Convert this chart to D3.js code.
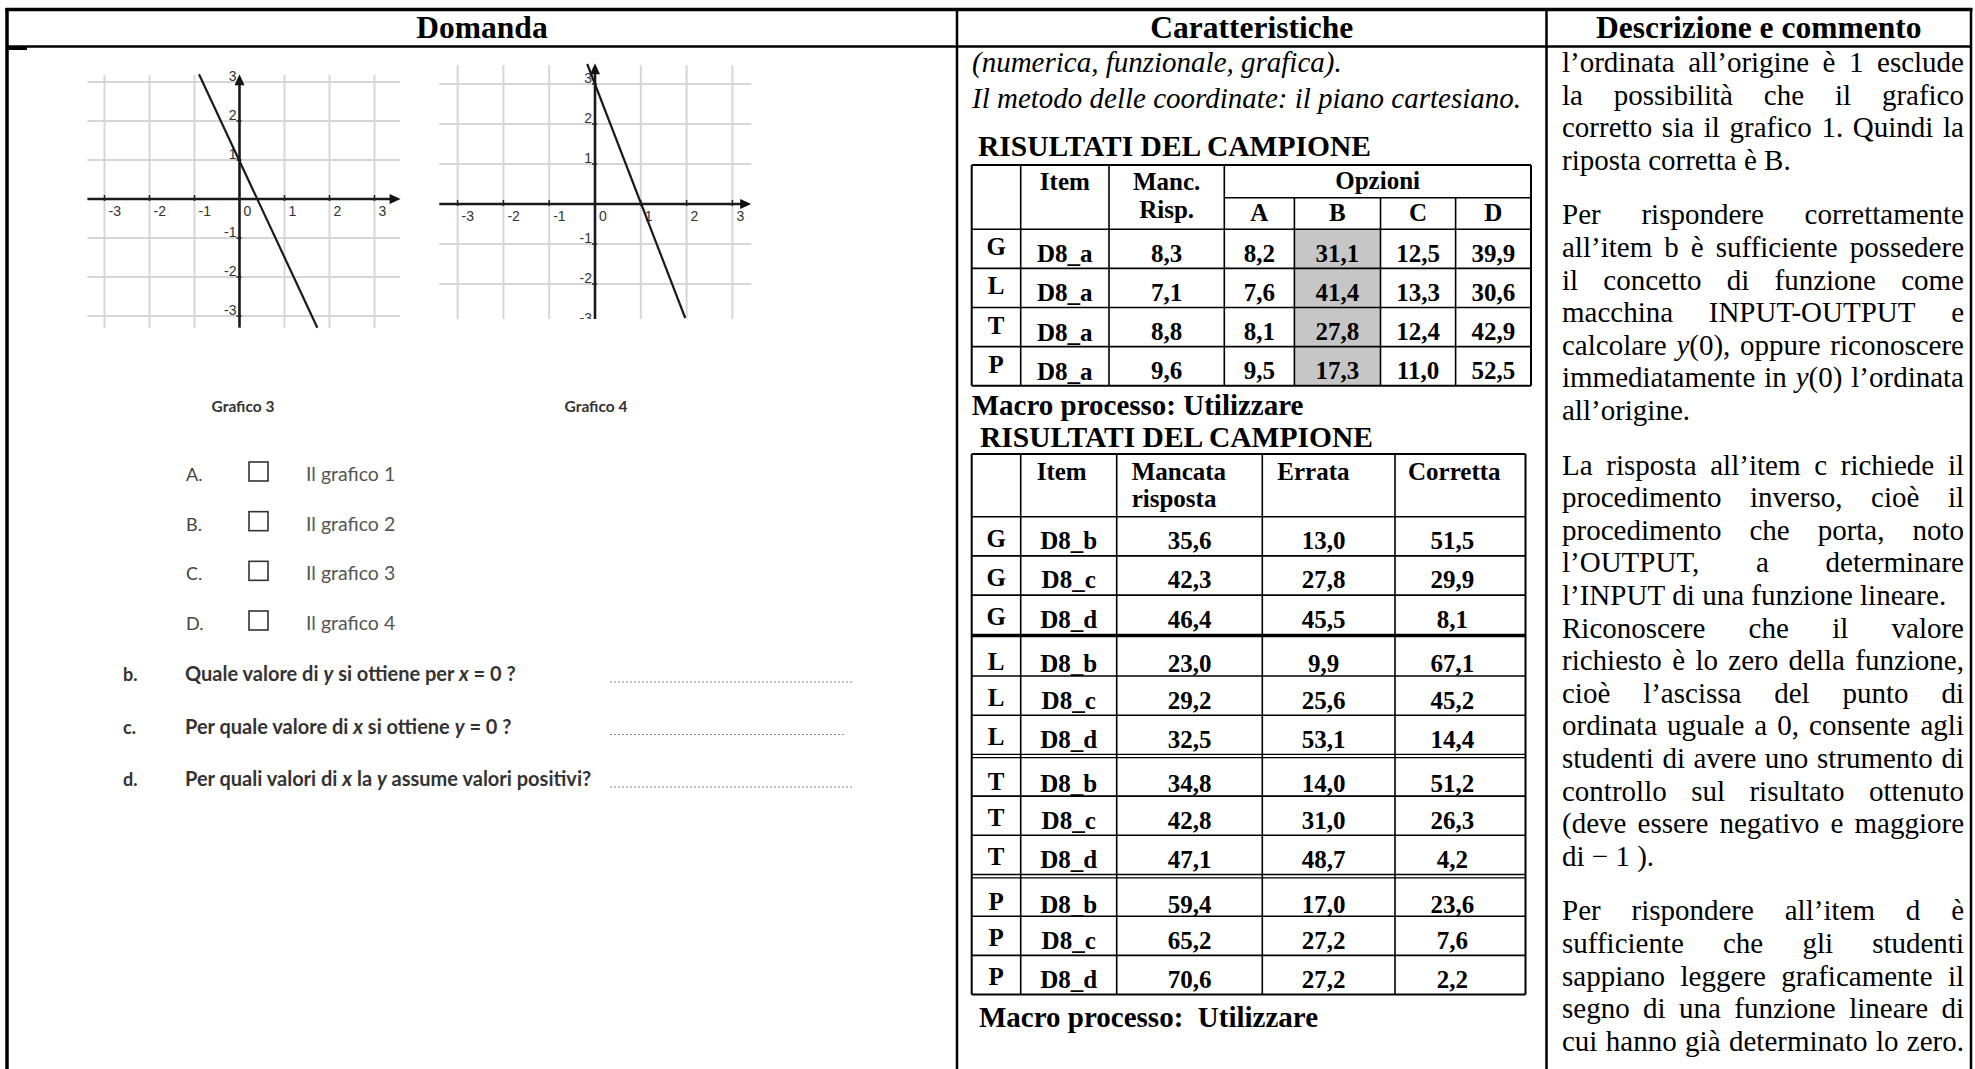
<!DOCTYPE html>
<html><head><meta charset="utf-8">
<script src="https://cdn.jsdelivr.net/npm/d3@7"></script>
<style>html,body{margin:0;padding:0;background:#fff;overflow:hidden}</style>
</head><body><svg id="c" width="1975" height="1069"></svg>
<script>
// ---------------- DATA ----------------
const headers = ["Domanda", "Caratteristiche", "Descrizione e commento"];

const gridTicks = [-3, -2, -1, 1, 2, 3];
const xTickLabels = ["-3", "-2", "-1", "0", "1", "2", "3"];
const xTickValues = [-3, -2, -1, 0, 1, 2, 3];
const yTickLabels = ["3", "2", "1", "-1", "-2", "-3"];
const yTickValues = [3, 2, 1, -1, -2, -3];
const graph3Line = [[-0.9, 3.2], [1.73, -3.3]];
const graph4Line = [[-0.17, 3.5], [1.97, -2.85]];
const graphTitles = ["Grafico 3", "Grafico 4"];

const optionLetters = ["A.", "B.", "C.", "D."];
const optionLabels = ["Il grafico 1", "Il grafico 2", "Il grafico 3", "Il grafico 4"];

const questionLetters = ["b.", "c.", "d."];
const questionTexts = [
  "Quale valore di *y* si ottiene per *x* = 0 ?",
  "Per quale valore di *x* si ottiene *y* = 0 ?",
  "Per quali valori di *x* la *y* assume valori positivi?"
];

const midIntro = ["(numerica, funzionale, grafica).", "Il metodo delle coordinate: il piano cartesiano."];
const sectionTitle = "RISULTATI DEL CAMPIONE";
const macroLabel1 = "Macro processo: Utilizzare";
const macroLabel2 = "Macro processo:  Utilizzare";

// Table 1 (item a)
const t1Groups = ["G", "L", "T", "P"];
const t1Item = ["D8_a", "D8_a", "D8_a", "D8_a"];
const t1Missing = [8.3, 7.1, 8.8, 9.6];
const t1OptA = [8.2, 7.6, 8.1, 9.5];
const t1OptB = [31.1, 41.4, 27.8, 17.3];
const t1OptC = [12.5, 13.3, 12.4, 11.0];
const t1OptD = [39.9, 30.6, 42.9, 52.5];
const t1OptionNames = ["A", "B", "C", "D"];
const t1Correct = "B";

// Table 2 (items b, c, d)
const t2Groups = ["G","G","G","L","L","L","T","T","T","P","P","P"];
const t2Items = ["D8_b","D8_c","D8_d","D8_b","D8_c","D8_d","D8_b","D8_c","D8_d","D8_b","D8_c","D8_d"];
const t2Missing = [35.6, 42.3, 46.4, 23.0, 29.2, 32.5, 34.8, 42.8, 47.1, 59.4, 65.2, 70.6];
const t2Wrong   = [13.0, 27.8, 45.5, 9.9, 25.6, 53.1, 14.0, 31.0, 48.7, 17.0, 27.2, 27.2];
const t2Right   = [51.5, 29.9, 8.1, 67.1, 45.2, 14.4, 51.2, 26.3, 4.2, 23.6, 7.6, 2.2];

// Right column paragraphs: [text, justify]
const rightParas = [
  [["l’ordinata all’origine è 1 esclude",1],["la possibilità che il grafico",1],["corretto sia il grafico 1. Quindi la",1],["riposta corretta è B.",0]],
  [["Per rispondere correttamente",1],["all’item b  è sufficiente possedere",1],["il concetto di funzione come",1],["macchina INPUT-OUTPUT e",1],["calcolare *y*(0), oppure riconoscere",1],["immediatamente in *y*(0) l’ordinata",1],["all’origine.",0]],
  [["La risposta all’item c richiede il",1],["procedimento inverso, cioè il",1],["procedimento che porta, noto",1],["l’OUTPUT, a determinare",1],["l’INPUT di una funzione lineare.",0],["Riconoscere che il valore",1],["richiesto è lo zero della funzione,",1],["cioè l’ascissa del punto di",1],["ordinata uguale a 0, consente agli",1],["studenti di avere uno strumento di",1],["controllo sul risultato ottenuto",1],["(deve essere negativo e maggiore",1],["di − 1 ).",0]],
  [["Per rispondere all’item d è",1],["sufficiente che gli studenti",1],["sappiano leggere graficamente il",1],["segno di una funzione lineare di",1],["cui hanno già determinato lo zero.",1]]
];

// ---------------- DRAW ----------------
const W = 1975, H = 1069;
const SERIF = "'Liberation Serif','Times New Roman',serif";
const SANS = "Lato,'Open Sans',sans-serif";
const ARIAL = "'Liberation Sans',Arial,sans-serif";
const svg = d3.select("#c");
svg.append("rect").attr("width", W).attr("height", H).attr("fill", "#fff");
const fmt = v => d3.format(".1f")(v).replace(".", ",");

function ln(g, x1, y1, x2, y2, w, c) {
  return g.append("line").attr("x1", x1).attr("y1", y1).attr("x2", x2).attr("y2", y2)
    .attr("stroke", c || "#000").attr("stroke-width", w);
}
// rich text: *...* italic segments
function rich(sel, str) {
  str.split("*").forEach((s, i) => {
    if (!s) return;
    sel.append("tspan").text(s).attr("font-style", i % 2 ? "italic" : null);
  });
  return sel;
}

// ---- outer frame ----
const frame = svg.append("g");
const colX = [7, 957, 1546.5, 1971];
ln(frame, colX[0] - 1.5, 9.5, colX[3] + 1.5, 9.5, 3.5);
ln(frame, colX[0], 46.5, colX[3], 46.5, 2.5);
ln(frame, colX[0], 48.5, colX[0] + 20, 48.5, 3);
colX.forEach((x, i) => ln(frame, x, 8, x, H, i === 0 ? 3.5 : 2.5));
headers.forEach((h, i) => {
  frame.append("text").attr("x", (colX[i] + colX[i + 1]) / 2).attr("y", 37.5)
    .attr("text-anchor", "middle").attr("font-family", SERIF).attr("font-weight", "bold")
    .attr("font-size", 31.5).text(h);
});

// ---- graphs ----
function drawGraph(cfg, id) {
  const g = svg.append("g");
  const clip = svg.append("clipPath").attr("id", "clip" + id);
  clip.append("rect").attr("x", cfg.clip[0]).attr("y", cfg.clip[1]).attr("width", cfg.clip[2]).attr("height", cfg.clip[3]);
  g.attr("clip-path", `url(#clip${id})`);
  const x = d3.scaleLinear().domain([-3, 3]).range(cfg.xr);
  const y = d3.scaleLinear().domain([-3, 3]).range(cfg.yr);
  g.selectAll(".hg").data(gridTicks).join("line")
    .attr("x1", x(cfg.gx[0])).attr("x2", x(cfg.gx[1])).attr("y1", d => y(d)).attr("y2", d => y(d))
    .attr("stroke", "#d6d6d6").attr("stroke-width", 2);
  g.selectAll(".vg").data(gridTicks).join("line")
    .attr("y1", y(cfg.gy[0])).attr("y2", y(cfg.gy[1])).attr("x1", d => x(d)).attr("x2", d => x(d))
    .attr("stroke", "#d6d6d6").attr("stroke-width", 2);
  ln(g, x(cfg.gx[0]), y(0), x(cfg.tipX) - 8, y(0), 2.6, "#1a1a1a");
  ln(g, x(0), y(cfg.gy[0]), x(0), y(cfg.tipY) + 8, 2.6, "#1a1a1a");
  g.append("path").attr("d", `M${x(cfg.tipX)},${y(0)} L${x(cfg.tipX) - 11},${y(0) - 5} L${x(cfg.tipX) - 11},${y(0) + 5} Z`).attr("fill", "#111");
  g.append("path").attr("d", `M${x(0)},${y(cfg.tipY)} L${x(0) - 5},${y(cfg.tipY) + 11} L${x(0) + 5},${y(cfg.tipY) + 11} Z`).attr("fill", "#111");
  g.selectAll(".xt").data(gridTicks).join("line")
    .attr("x1", d => x(d)).attr("x2", d => x(d)).attr("y1", y(0) - 4).attr("y2", y(0) + 2)
    .attr("stroke", "#222").attr("stroke-width", 1.5);
  g.selectAll(".yt").data(gridTicks).join("line")
    .attr("y1", d => y(d)).attr("y2", d => y(d)).attr("x1", x(0) - 3).attr("x2", x(0) + 2)
    .attr("stroke", "#222").attr("stroke-width", 1.5);
  g.selectAll(".xl").data(xTickValues).join("text")
    .attr("x", d => x(d) + 4).attr("y", y(0) + 17).attr("font-family", ARIAL).attr("font-size", 14)
    .attr("fill", "#333").text((d, i) => xTickLabels[i]);
  g.selectAll(".yl").data(yTickValues).join("text")
    .attr("x", x(0) - 3).attr("y", d => y(d) - 1).attr("text-anchor", "end").attr("font-family", ARIAL)
    .attr("font-size", 14).attr("fill", "#333").text((d, i) => yTickLabels[i]);
  g.append("path").datum(cfg.line)
    .attr("d", d3.line().x(d => x(d[0])).y(d => y(d[1])))
    .attr("stroke", "#1a1a1a").attr("stroke-width", 2.2).attr("fill", "none");
  svg.append("text").attr("x", x(0) + cfg.titleDx).attr("y", 412).attr("text-anchor", "middle")
    .attr("font-family", SANS).attr("font-weight", "bold").attr("font-size", 15.5).attr("fill", "#333")
    .text(cfg.title);
}
drawGraph({ xr: [104.5, 374.5], yr: [316, 82], gx: [-3.38, 3.57], gy: [-3.3, 3.18], tipX: 3.58, tipY: 3.2,
  clip: [80, 60, 330, 270], line: graph3Line, title: graphTitles[0], titleDx: 3.5 }, 1);
drawGraph({ xr: [457.6, 732.4], yr: [324, 84], gx: [-3.4, 3.41], gy: [-2.9, 3.47], tipX: 3.41, tipY: 3.52,
  clip: [435, 55, 330, 264], line: graph4Line, title: graphTitles[1], titleDx: 1 }, 2);

// ---- options ----
const optY = d3.scaleLinear().domain([0, 3]).range([474, 623]);
const opts = svg.append("g");
optionLetters.forEach((l, i) => {
  opts.append("text").attr("x", 186).attr("y", optY(i) + 7).attr("font-family", SANS).attr("font-size", 18)
    .attr("fill", "#444").text(l);
  opts.append("rect").attr("x", 249).attr("y", optY(i) - 12).attr("width", 19).attr("height", 19)
    .attr("fill", "none").attr("stroke", "#333").attr("stroke-width", 1.6);
  opts.append("text").attr("x", 306).attr("y", optY(i) + 7).attr("font-family", SANS).attr("font-size", 19.5)
    .attr("fill", "#555").text(optionLabels[i]);
});

// ---- questions ----
const qY = d3.scaleLinear().domain([0, 2]).range([681, 786]);
const dotEnd = [853, 845, 853];
questionLetters.forEach((l, i) => {
  svg.append("text").attr("x", 123).attr("y", qY(i)).attr("font-family", SANS).attr("font-weight", "bold")
    .attr("font-size", 18).attr("fill", "#333").text(l);
  const t = svg.append("text").attr("x", 185).attr("y", qY(i)).attr("font-family", SANS).attr("font-weight", "bold")
    .attr("font-size", 20).attr("fill", "#333");
  rich(t, questionTexts[i]);
  const end = 185 + t.node().getComputedTextLength();
  ln(svg, Math.max(610, end + 8), qY(i) + 1, dotEnd[i], qY(i) + 1, 1.2, "#888").attr("stroke-dasharray", "2,2");
});

// ---- middle column ----
const mid = svg.append("g");
midIntro.forEach((s, i) => mid.append("text").attr("x", 972).attr("y", 71.5 + i * 36.5).attr("font-family", SERIF)
  .attr("font-style", "italic").attr("font-size", 29).text(s));
mid.append("text").attr("x", 978).attr("y", 156).attr("font-family", SERIF).attr("font-weight", "bold")
  .attr("font-size", 29.5).text(sectionTitle);

// Table 1
const T1 = { x: [971.7, 1020.7, 1109, 1224.3, 1294.4, 1380.5, 1455.6, 1531], top: 165, sub: 197.7, head: 229.3 };
const t1Y = d3.scaleLinear().domain([0, 4]).range([T1.head, 385.7]);
const t1 = mid.append("g");
const t1Opts = [t1OptA, t1OptB, t1OptC, t1OptD];
const bIdx = t1OptionNames.indexOf(t1Correct);
t1.selectAll(".sh").data(t1OptB).join("rect")
  .attr("x", T1.x[3 + bIdx]).attr("width", T1.x[4 + bIdx] - T1.x[3 + bIdx])
  .attr("y", (d, i) => t1Y(i)).attr("height", (d, i) => t1Y(i + 1) - t1Y(i)).attr("fill", "#c6c6c6");
ln(t1, T1.x[0], T1.top, T1.x[7], T1.top, 2);
ln(t1, T1.x[3], T1.sub, T1.x[7], T1.sub, 1.6);
d3.range(5).forEach(i => ln(t1, T1.x[0], t1Y(i), T1.x[7], t1Y(i), i === 4 ? 2 : 1.6));
T1.x.forEach((x, i) => ln(t1, x, i >= 4 && i <= 6 ? T1.sub : T1.top, x, t1Y(4), (i === 0 || i === 7) ? 2 : 1.6));
const tb = (g, x, y, s, anchor) => g.append("text").attr("x", x).attr("y", y).attr("text-anchor", anchor || "middle")
  .attr("font-family", SERIF).attr("font-weight", "bold").attr("font-size", 25).text(s);
const c1 = i => (T1.x[i] + T1.x[i + 1]) / 2;
tb(t1, c1(1), 190, "Item");
tb(t1, c1(2), 190, "Manc.");
tb(t1, c1(2), 218, "Risp.");
tb(t1, (T1.x[3] + T1.x[7]) / 2, 189, "Opzioni");
t1OptionNames.forEach((o, j) => tb(t1, c1(3 + j), 221, o));
t1Groups.forEach((gname, i) => {
  const top = t1Y(i);
  tb(t1, c1(0), top + 26, gname);
  tb(t1, c1(1), top + 33, t1Item[i]);
  tb(t1, c1(2), top + 32.5, fmt(t1Missing[i]));
  t1Opts.forEach((arr, j) => tb(t1, c1(3 + j), top + 32.5, fmt(arr[i])));
});
mid.append("text").attr("x", 971.7).attr("y", 415).attr("font-family", SERIF).attr("font-weight", "bold")
  .attr("font-size", 29).text(macroLabel1);
mid.append("text").attr("x", 980).attr("y", 447).attr("font-family", SERIF).attr("font-weight", "bold")
  .attr("font-size", 29.5).text(sectionTitle);

// Table 2
const T2 = { x: [971.7, 1020.7, 1116.7, 1262.3, 1395, 1525.5], top: 454, head: 516.7 };
const rowH = 39.2, grpGap = 2.5;
const t2Scale = d3.scaleLinear().domain([0, 12]).range([T2.head, T2.head + 12 * rowH]);
const rowTop = i => t2Scale(i) + Math.floor(i / 3) * grpGap;
const rowBot = i => t2Scale(i + 1) + Math.floor(i / 3) * grpGap;
const t2 = mid.append("g");
const tableBottom = rowBot(11);
ln(t2, T2.x[0], T2.top, T2.x[5], T2.top, 2);
ln(t2, T2.x[0], T2.head, T2.x[5], T2.head, 1.6);
t2Items.forEach((d, i) => {
  const b = rowBot(i);
  if (i === 11) ln(t2, T2.x[0], b, T2.x[5], b, 2);
  else if (i === 2) ln(t2, T2.x[0], b + 1.2, T2.x[5], b + 1.2, 3.6);
  else if (i % 3 === 2) { ln(t2, T2.x[0], b, T2.x[5], b, 1.3); ln(t2, T2.x[0], b + 3.3, T2.x[5], b + 3.3, 1.3); }
  else ln(t2, T2.x[0], b, T2.x[5], b, 1.6);
});
T2.x.forEach((x, i) => ln(t2, x, T2.top, x, tableBottom, (i === 0 || i === 5) ? 2 : 1.6));
const c2 = i => (T2.x[i] + T2.x[i + 1]) / 2;
tb(t2, c2(1) - 7, 480, "Item");
tb(t2, T2.x[2] + 15, 480, "Mancata", "start");
tb(t2, T2.x[2] + 15, 507, "risposta", "start");
tb(t2, T2.x[3] + 15, 480, "Errata", "start");
tb(t2, T2.x[4] + 13, 480, "Corretta", "start");
t2Items.forEach((item, i) => {
  const top = rowTop(i) + (i % 3 === 0 && i > 0 ? 3 : 0);
  tb(t2, c2(0), top + 30, t2Groups[i]);
  tb(t2, c2(1), top + 32.5, item);
  tb(t2, c2(2), top + 32.5, fmt(t2Missing[i]));
  tb(t2, c2(3) - 5, top + 32.5, fmt(t2Wrong[i]));
  tb(t2, c2(4) - 8, top + 32.5, fmt(t2Right[i]));
});
mid.append("text").attr("x", 979).attr("y", tableBottom + 32).attr("font-family", SERIF).attr("font-weight", "bold")
  .attr("font-size", 29).attr("xml:space", "preserve").style("white-space", "pre").text(macroLabel2);

// ---- right column (justified) ----
const right = svg.append("g");
const RX0 = 1562, RX1 = 1964, RFS = 29, LH = 32.6, PG = 22;
let by = 72;
rightParas.forEach((para, pi) => {
  if (pi > 0) by += PG;
  para.forEach(([txt, just], li) => {
    const words = txt.split(/ +/);
    const nodes = words.map(w => {
      const t = right.append("text").attr("y", by).attr("font-family", SERIF).attr("font-size", RFS);
      rich(t, w);
      return t;
    });
    const widths = nodes.map(n => n.node().getComputedTextLength());
    const total = d3.sum(widths);
    const gap = just && words.length > 1 ? (RX1 - RX0 - total) / (words.length - 1) : RFS * 0.25;
    let x = RX0;
    nodes.forEach((n, k) => { n.attr("x", x); x += widths[k] + gap; });
    by += LH;
  });
});
</script></body></html>
